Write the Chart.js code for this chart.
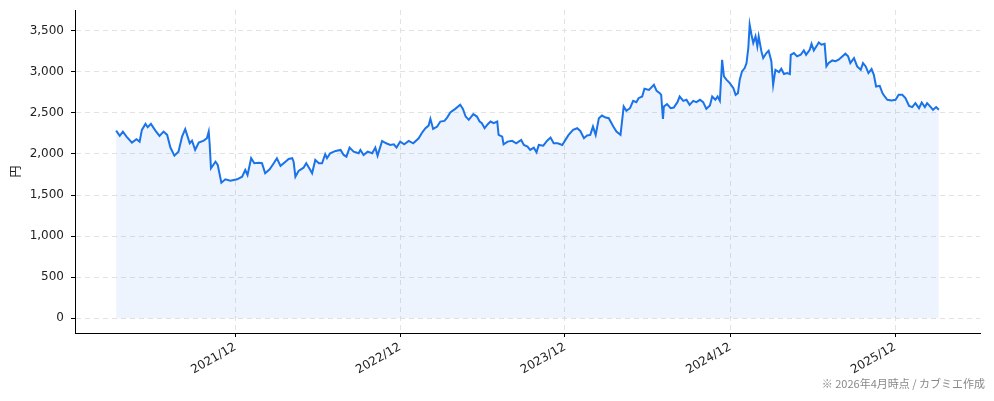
<!DOCTYPE html>
<html lang="ja">
<head>
<meta charset="utf-8">
<script src="https://cdn.jsdelivr.net/npm/chart.js@4.4.1/dist/chart.umd.min.js"></script>
<style>
  html, body { margin: 0; padding: 0; background: #fff; }
  #wrap { width: 994px; height: 401px; }
</style>
</head>
<body>
<div id="wrap"><canvas id="priceChart" width="994" height="401"></canvas></div>
<script>
// 株価の推移（読み取り値）
const dates = [
  "2021-03-12","2021-03-20","2021-03-27","2021-04-04","2021-04-16","2021-04-26","2021-05-03","2021-05-08",
  "2021-05-16","2021-05-21","2021-05-28","2021-06-07","2021-06-16","2021-06-25","2021-07-03","2021-07-10",
  "2021-07-19","2021-07-28","2021-08-05","2021-08-12","2021-08-22","2021-08-27","2021-09-03","2021-09-11",
  "2021-09-22","2021-09-29","2021-10-03","2021-10-05","2021-10-08","2021-10-18","2021-10-23","2021-10-31",
  "2021-11-09","2021-11-20","2021-12-05","2021-12-16","2021-12-23","2021-12-28","2022-01-05","2022-01-12",
  "2022-01-22","2022-01-29","2022-02-05","2022-02-15","2022-02-24","2022-03-03","2022-03-11","2022-03-22",
  "2022-03-29","2022-04-06","2022-04-09","2022-04-13","2022-04-20","2022-05-01","2022-05-07","2022-05-16",
  "2022-05-20","2022-05-27","2022-06-04","2022-06-11","2022-06-18","2022-06-22","2022-06-29","2022-07-11",
  "2022-07-22","2022-07-29","2022-08-04","2022-08-11","2022-08-20","2022-08-31","2022-09-04","2022-09-11",
  "2022-09-20","2022-09-30","2022-10-07","2022-10-12","2022-10-22","2022-10-31","2022-11-09","2022-11-17",
  "2022-11-23","2022-12-01","2022-12-10","2022-12-20","2022-12-30","2023-01-11","2023-01-19","2023-01-26",
  "2023-02-02","2023-02-06","2023-02-12","2023-02-21","2023-02-28","2023-03-09","2023-03-15","2023-03-22",
  "2023-04-02","2023-04-13","2023-04-19","2023-04-25","2023-05-02","2023-05-12","2023-05-20","2023-05-26",
  "2023-05-31","2023-06-06","2023-06-13","2023-06-19","2023-06-26","2023-07-04","2023-07-07","2023-07-15",
  "2023-07-18","2023-07-27","2023-08-06","2023-08-15","2023-08-26","2023-09-01","2023-09-09","2023-09-15",
  "2023-09-23","2023-09-29","2023-10-04","2023-10-14","2023-10-22","2023-10-30","2023-11-06","2023-11-15",
  "2023-11-25","2023-12-02","2023-12-09","2023-12-19","2023-12-28","2024-01-04","2024-01-12","2024-01-19",
  "2024-01-26","2024-02-01","2024-02-07","2024-02-14","2024-02-21","2024-02-29","2024-03-07","2024-03-17",
  "2024-03-24","2024-04-02","2024-04-09","2024-04-15","2024-04-23","2024-04-30","2024-05-07","2024-05-12",
  "2024-05-20","2024-05-25","2024-06-04","2024-06-15","2024-06-21","2024-06-28","2024-07-01","2024-07-05",
  "2024-07-07","2024-07-14","2024-07-22","2024-07-29","2024-08-06","2024-08-11","2024-08-19","2024-08-26",
  "2024-09-02","2024-09-10","2024-09-17","2024-09-25","2024-10-02","2024-10-09","2024-10-17","2024-10-22",
  "2024-10-29","2024-11-03","2024-11-08","2024-11-13","2024-11-17","2024-11-23","2024-11-30","2024-12-08",
  "2024-12-13","2024-12-18","2024-12-22","2024-12-27","2025-01-02","2025-01-06","2025-01-10","2025-01-13",
  "2025-01-17","2025-01-21","2025-01-26","2025-01-30","2025-02-02","2025-02-08","2025-02-12","2025-02-19",
  "2025-02-24","2025-03-02","2025-03-06","2025-03-11","2025-03-19","2025-03-24","2025-03-30","2025-04-06",
  "2025-04-12","2025-04-14","2025-04-21","2025-04-28","2025-05-06","2025-05-13","2025-05-18","2025-05-26",
  "2025-05-30","2025-06-04","2025-06-12","2025-06-15","2025-06-21","2025-06-28","2025-07-02","2025-07-07",
  "2025-07-15","2025-07-22","2025-07-29","2025-08-06","2025-08-13","2025-08-19","2025-08-24","2025-09-01",
  "2025-09-08","2025-09-16","2025-09-21","2025-09-27","2025-10-03","2025-10-10","2025-10-15","2025-10-20",
  "2025-10-28","2025-11-03","2025-11-08","2025-11-14","2025-11-23","2025-12-02","2025-12-09","2025-12-17",
  "2025-12-24","2026-01-01","2026-01-08","2026-01-15","2026-01-23","2026-01-29","2026-02-05","2026-02-10",
  "2026-02-18","2026-02-23","2026-03-02","2026-03-08"
];
const prices = [
  2284,2220,2272,2211,2138,2179,2150,2293,
  2366,2325,2366,2284,2220,2272,2232,2081,
  1980,2028,2211,2301,2130,2162,2049,2138,
  2162,2191,2272,2130,1826,1906,1866,1650,
  1691,1675,1691,1723,1805,1744,1948,1887,
  1894,1887,1765,1814,1887,1948,1855,1906,
  1939,1948,1906,1723,1793,1833,1887,1805,
  1765,1927,1887,1887,1996,1948,2008,2037,
  2049,1988,1967,2077,2028,2008,2049,1988,
  2028,2008,2077,1980,2159,2130,2110,2118,
  2077,2150,2118,2159,2130,2191,2264,2313,
  2345,2427,2305,2333,2394,2402,2443,2505,
  2549,2598,2549,2455,2415,2484,2455,2394,
  2374,2313,2362,2394,2374,2394,2232,2211,
  2118,2150,2159,2130,2171,2110,2089,2049,
  2077,2020,2110,2101,2159,2199,2130,2130,
  2110,2171,2232,2293,2313,2280,2191,2224,
  2232,2333,2232,2435,2467,2443,2435,2333,
  2272,2232,2577,2524,2557,2646,2630,2679,
  2699,2793,2780,2841,2768,2740,2720,2427,
  2577,2606,2557,2565,2630,2699,2646,2659,
  2598,2646,2630,2659,2630,2549,2589,2699,
  2659,2699,2646,3146,2943,2902,2862,2801,
  2720,2740,2902,3004,3045,3106,3289,3573,
  3451,3350,3431,3309,3431,3248,3167,3228,
  3256,3128,2841,3024,2996,3037,2972,2984,
  2972,3207,3228,3187,3207,3260,3207,3268,
  3341,3260,3329,3357,3329,3341,3065,3106,
  3138,3128,3146,3187,3220,3187,3106,3167,
  3065,3024,3106,3065,2984,3033,2963,2821,
  2829,2740,2699,2659,2650,2659,2720,2720,
  2679,2585,2570,2618,2557,2626,2570,2618,
  2570,2537,2570,2537
];
const yTicks = [0, 500, 1000, 1500, 2000, 2500, 3000, 3500];
const xTickLabels = ["2021/12", "2022/12", "2023/12", "2024/12", "2025/12"];
const yTitle = "円";
const note = "※ 2026年4月時点 / カブミエ作成";

const times = dates.map(d => Date.parse(d));
const xTickVals = xTickLabels.map(l => Date.parse(l.replace("/", "-") + "-01"));

// matplotlib風の5%マージン
const tMin = Math.min(...times), tMax = Math.max(...times);
const xMin = tMin - (tMax - tMin) * 0.05;
const xMax = tMax + (tMax - tMin) * 0.05;
const pMax = Math.max(...prices);
const yMin = -pMax * 0.05;
const yMax = pMax * 1.05;

const notePlugin = {
  id: "note",
  afterDraw(chart) {
    const ctx = chart.ctx;
    ctx.save();
    ctx.font = '11px "Noto Sans CJK JP"';
    ctx.fillStyle = "#888";
    ctx.textAlign = "right";
    ctx.textBaseline = "alphabetic";
    ctx.fillText(note, 985, 388);
    ctx.restore();
  }
};

const tickFont = { family: "DejaVu Sans", size: 12 };

const ctx = document.getElementById("priceChart").getContext("2d");
new Chart(ctx, {
  type: "line",
  data: {
    datasets: [{
      data: times.map((t, i) => ({ x: t, y: prices[i] })),
      borderColor: "#1a73e8",
      borderWidth: 2,
      backgroundColor: "rgba(26,115,232,0.08)",
      fill: { value: 0 },
      pointRadius: 0,
      tension: 0
    }]
  },
  options: {
    responsive: false,
    animation: false,
    devicePixelRatio: 1,
    layout: { padding: { top: 10, right: 14, left: 0, bottom: 0 } },
    plugins: {
      legend: { display: false },
      tooltip: { enabled: false }
    },
    scales: {
      x: {
        type: "linear",
        min: xMin,
        max: xMax,
        afterBuildTicks: s => { s.ticks = xTickVals.map(v => ({ value: v })); },
        afterFit: s => { s.height = 68; s.paddingLeft = 0; s.paddingRight = 0; },
        ticks: {
          autoSkip: false,
          minRotation: 30,
          maxRotation: 30,
          padding: 3,
          color: "#222",
          font: tickFont,
          callback: (v, i) => xTickLabels[i]
        },
        grid: { color: "#e2e2e2", tickColor: "#000", tickLength: 4, tickBorderDash: [] },
        border: { color: "#000", width: 1, dash: [5, 4] }
      },
      y: {
        type: "linear",
        min: yMin,
        max: yMax,
        afterBuildTicks: s => { s.ticks = yTicks.map(v => ({ value: v })); },
        afterFit: s => { s.width = 75; s.paddingTop = 0; s.paddingBottom = 0; },
        ticks: {
          padding: 7,
          color: "#222",
          font: tickFont,
          callback: v => v.toLocaleString("en-US")
        },
        title: {
          display: true,
          text: yTitle,
          color: "#222",
          font: { family: "Noto Sans CJK JP", size: 12 },
          padding: { top: 8, bottom: 0 }
        },
        grid: { color: "#e2e2e2", tickColor: "#000", tickLength: 4, tickBorderDash: [] },
        border: { color: "#000", width: 1, dash: [5, 4] }
      }
    }
  },
  plugins: [notePlugin]
});
</script>
</body>
</html>
